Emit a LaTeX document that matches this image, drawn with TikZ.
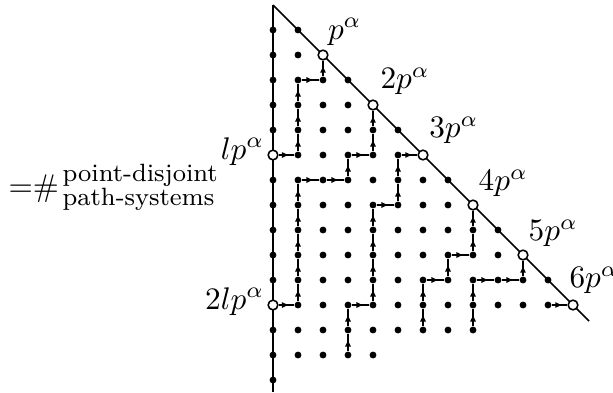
\documentclass[tikz,border=0pt]{standalone}
\usetikzlibrary{arrows.meta,positioning,decorations.markings}

\begin{document}
\begin{tikzpicture}[x=0.281cm, y=0.281cm,
  dot/.style={circle, fill=black, inner sep=0pt, minimum size=2.2pt},
  ring/.style={circle, draw=black, fill=white, line width=0.5pt,
               inner sep=0pt, minimum size=3.1pt},
  bound/.style={line width=0.55pt},
  parr/.style={line width=0.6pt, postaction={decorate},
               decoration={markings, mark=at position 0.7 with
                 {\arrow{Latex[length=2.4pt,width=2pt]}}}},
  lbl/.style={inner sep=0pt}
]
\useasboundingbox (-10.92,0.2) rectangle (13.6,-15.48);

% Boundary of the triangle
\coordinate (apex) at (0,0);
\coordinate (lowend) at (0,-15.48);
\coordinate (diagend) at (12.64,-12.64);
\draw[bound] (apex) -- (lowend);
\draw[bound] (apex) -- (diagend);

% Lattice points
\foreach \r in {1,...,12}
  \foreach \c in {0,...,\r}
    \node[dot] (n-\c-\r) at (\c,-\r) {};
\foreach \c in {0,...,8} \node[dot] (n-\c-13) at (\c,-13) {};
\foreach \c in {0,...,4} \node[dot] (n-\c-14) at (\c,-14) {};
\node[dot] (n-0-15) at (0,-15) {};

% Start and end points
\foreach \k in {2,4,...,12}
  \node[ring] (n-\k-\k) at (\k,-\k) {};
\node[ring] (n-0-6)  at (0,-6)  {};
\node[ring] (n-0-12) at (0,-12) {};

% Paths
\foreach \route in {
  {0-6,1-6,1-5,1-4,1-3,2-3,2-2},
  {0-12,1-12,1-11,1-10,1-9,1-8,1-7,2-7,3-7,3-6,4-6,4-5,4-4},
  {3-14,3-13,3-12,4-12,4-11,4-10,4-9,4-8,5-8,5-7,5-6,6-6},
  {6-13,6-12,6-11,7-11,7-10,8-10,8-9,8-8},
  {8-13,8-12,8-11,9-11,10-11,10-10},
  {11-12,12-12}}
  \foreach \pt [count=\i, remember=\pt as \prev] in \route
    {\ifnum\i>1 \draw[parr] (n-\prev) -- (n-\pt); \fi};

% Labels
\node[lbl, above right=2.9pt and 1.4pt of n-2-2.center]   (l1) {$p^\alpha$};
\node[lbl, above right=3.1pt and 2.2pt of n-4-4.center]   (l2) {$2p^\alpha$};
\node[lbl, above right=3.3pt and 1.8pt of n-6-6.center]   (l3) {$3p^\alpha$};
\node[lbl, above right=2.5pt and 1.6pt of n-8-8.center]   (l4) {$4p^\alpha$};
\node[lbl, above right=2.5pt and 1.6pt of n-10-10.center] (l5) {$5p^\alpha$};
\node[lbl, anchor=south west, xshift=-1.3pt, yshift=3.3pt] (l6) at (n-12-12.center) {$6p^\alpha$};
\node[lbl, left=2.6pt of n-0-6.center,  yshift=1.2pt] (ll1) {$lp^\alpha$};
\node[lbl, left=2.6pt of n-0-12.center, yshift=1.2pt] (ll2) {$2lp^\alpha$};

% Count
\node[lbl, anchor=west] (eq) at (-10.6,-7.36) {$\mathord{=}\#$};
\node[lbl, font=\footnotesize, anchor=base west] (top) at (-8.44,-7.07) {point-disjoint};
\node[lbl, font=\footnotesize, anchor=base west] (bot) at (-8.44,-8.0)  {path-systems};
\end{tikzpicture}
\end{document}
